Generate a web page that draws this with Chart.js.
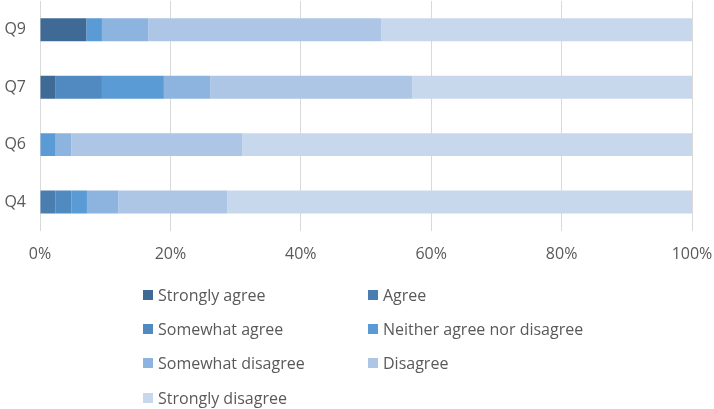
<!DOCTYPE html>
<html>
<head>
<meta charset="utf-8">
<script src="https://cdn.jsdelivr.net/npm/chart.js@4"></script>
<style>
  html, body { margin: 0; padding: 0; background: #fff; }
  #wrap { position: relative; width: 714px; height: 409px; }
  #chart { position: absolute; left: 0; top: 0; }
  #legend { position: absolute; left: 0; top: 0; width: 714px; height: 409px; pointer-events: none;
            font-family: "Open Sans", Lato, sans-serif; font-size: 16px; color: #595959; }
  .item { position: absolute; white-space: nowrap; line-height: 20px; }
  .sw { position: absolute; width: 10px; height: 10px; left: 0; top: 5px; }
  .tx { position: absolute; left: 15px; top: 0; }
</style>
</head>
<body>
<div id="wrap">
  <canvas id="chart" width="714" height="409"></canvas>
  <div id="legend"></div>
</div>
<script>
const categories = ['Q9', 'Q7', 'Q6', 'Q4'];
const seriesNames = ['Strongly agree', 'Agree', 'Somewhat agree', 'Neither agree nor disagree',
                     'Somewhat disagree', 'Disagree', 'Strongly disagree'];
const stronglyAgree    = [7.1, 2.4, 0, 0];
const agree            = [0, 0, 0, 2.4];
const somewhatAgree    = [0, 7.1, 0, 2.4];
const neither          = [2.4, 9.5, 2.4, 2.4];
const somewhatDisagree = [7.1, 7.1, 2.4, 4.8];
const disagree         = [35.7, 31.0, 26.2, 16.7];
const stronglyDisagree = [47.7, 42.9, 69.0, 71.3];
const xTicks = [0, 20, 40, 60, 80, 100];

const seriesValues = [stronglyAgree, agree, somewhatAgree, neither, somewhatDisagree, disagree, stronglyDisagree];
const colors = ['#3F6A96', '#4A7EB1', '#508AC1', '#5B9BD5', '#8DB3DF', '#ADC6E6', '#C7D8ED'];

const datasets = seriesNames.map((n, i) => ({
  label: n,
  data: seriesValues[i],
  backgroundColor: colors[i],
  borderWidth: 0,
  categoryPercentage: 0.8,
  barPercentage: 0.5
}));

const FONT = '"Open Sans", Lato, sans-serif';

new Chart(document.getElementById('chart'), {
  type: 'bar',
  data: { labels: categories, datasets },
  options: {
    indexAxis: 'y',
    responsive: false,
    animation: false,
    layout: { padding: { top: 1, right: 22, bottom: 131, left: 0 } },
    plugins: { legend: { display: false }, tooltip: { enabled: false } },
    scales: {
      x: {
        stacked: true,
        min: 0, max: 100,
        afterBuildTicks: (s) => { s.ticks = xTicks.map(v => ({ value: v })); },
        afterFit: (s) => { s.paddingLeft = 0; s.paddingRight = 0; },
        ticks: { callback: v => v + '%', color: '#595959', font: { family: FONT, size: 16 }, padding: 14, maxRotation: 0 },
        grid: { color: '#D9D9D9', drawTicks: false, lineWidth: 1 },
        border: { display: false }
      },
      y: {
        stacked: true,
        afterFit: (s) => { s.width = 40; s.paddingTop = 0; s.paddingBottom = 0; },
        ticks: { color: '#595959', font: { family: FONT, size: 16 }, padding: 14 },
        grid: { display: false, drawTicks: false },
        border: { display: false }
      }
    }
  }
});

// HTML legend in two columns
const legend = document.getElementById('legend');
const colX = [143, 368];
const rowY = [285, 319, 353, 388];
seriesNames.forEach((n, i) => {
  const d = document.createElement('div');
  d.className = 'item';
  d.style.left = colX[i % 2] + 'px';
  d.style.top = rowY[Math.floor(i / 2)] + 'px';
  d.innerHTML = '<span class="sw" style="background:' + colors[i] + '"></span><span class="tx"></span>';
  d.querySelector('.tx').textContent = n;
  legend.appendChild(d);
});
</script>
</body>
</html>
